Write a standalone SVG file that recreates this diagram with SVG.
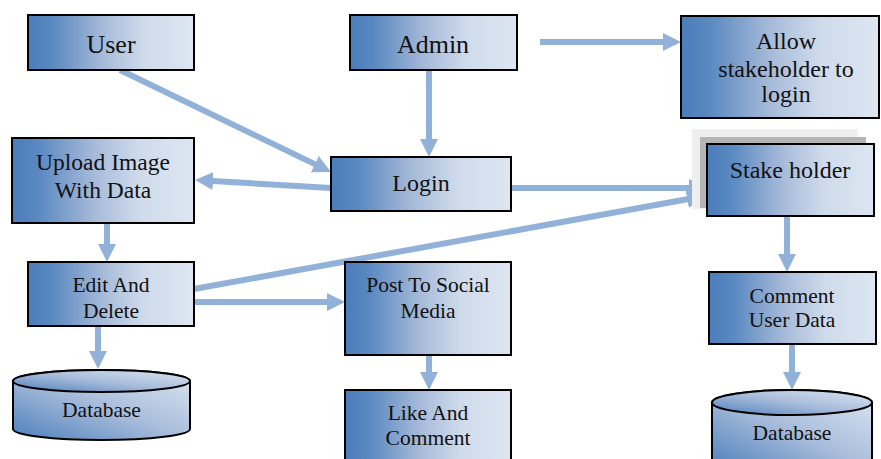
<svg xmlns="http://www.w3.org/2000/svg" width="881" height="459" viewBox="0 0 881 459">
  <defs>
    <linearGradient id="boxFill" x1="0" y1="0" x2="1" y2="0">
      <stop offset="0" stop-color="#4a7dbb"/>
      <stop offset="0.15" stop-color="#5b89c1"/>
      <stop offset="0.45" stop-color="#a6bad9"/>
      <stop offset="0.7" stop-color="#cfdbeb"/>
      <stop offset="1" stop-color="#dde6f2"/>
    </linearGradient>
    <linearGradient id="dbFill" x1="0" y1="1" x2="1" y2="0">
      <stop offset="0" stop-color="#4c7fbc"/>
      <stop offset="0.5" stop-color="#a9bddb"/>
      <stop offset="1" stop-color="#dce6f2"/>
    </linearGradient>
    <marker id="arrow" markerUnits="userSpaceOnUse" markerWidth="20" markerHeight="20" refX="4" refY="9" orient="auto">
      <path d="M0,0 L18,9 L0,18 Z" fill="#92b1d8"/>
    </marker>
  </defs>
  <style>
    .box { fill: url(#boxFill); stroke: #000; stroke-width: 2; }
    .db { fill: url(#dbFill); stroke: #000; stroke-width: 2; }
    .lbl { font-family: "Liberation Serif", "Times New Roman", serif; fill: #111; text-anchor: middle; }
    .big { font-size: 26px; }
    .mid { font-size: 24px; }
    .up { font-size: 23.5px; }
    .sm { font-size: 21.5px; }
    .conn line { stroke: #92b1d8; stroke-width: 6; marker-end: url(#arrow); }
  </style>
  <rect width="881" height="459" fill="#fff"/>

  <g class="conn">
    <line x1="120" y1="70" x2="318.4" y2="165.9"/>
    <line x1="429" y1="70" x2="429" y2="143"/>
    <line x1="540" y1="42" x2="667" y2="42"/>
    <line x1="331" y1="188" x2="209" y2="180.8"/>
    <line x1="511" y1="188" x2="693" y2="188"/>
    <line x1="194" y1="289" x2="691.2" y2="198.5"/>
    <line x1="107" y1="223" x2="107" y2="248"/>
    <line x1="194" y1="302" x2="331" y2="302"/>
    <line x1="98" y1="326" x2="98" y2="355"/>
    <line x1="429" y1="355" x2="429" y2="376"/>
    <line x1="787" y1="216" x2="787" y2="258"/>
    <line x1="792" y1="344" x2="792" y2="376"/>
  </g>

  <g id="user">
    <rect class="box" x="28" y="15" width="166" height="55"/>
    <text class="lbl big" x="111" y="53">User</text>
  </g>
  <g id="admin">
    <rect class="box" x="350" y="15" width="167" height="55"/>
    <text class="lbl big" x="433" y="53">Admin</text>
  </g>
  <g id="allow">
    <rect class="box" x="681" y="16" width="198" height="102"/>
    <text class="lbl mid" x="786" y="49">Allow</text>
    <text class="lbl mid" x="786" y="77">stakeholder to</text>
    <text class="lbl mid" x="786" y="102">login</text>
  </g>
  <g id="stakeholder">
    <rect x="692" y="129" width="166" height="80" fill="#efefef"/>
    <rect x="700" y="137" width="166" height="71" fill="#b5b5b5"/>
    <rect class="box" x="707" y="144" width="167" height="72"/>
    <text class="lbl mid" x="790" y="178">Stake holder</text>
  </g>
  <g id="login">
    <rect class="box" x="331" y="157" width="180" height="54"/>
    <text class="lbl mid" x="421" y="191">Login</text>
  </g>
  <g id="upload">
    <rect class="box" x="12" y="138" width="182" height="85"/>
    <text class="lbl up" x="103" y="170">Upload Image</text>
    <text class="lbl up" x="103" y="198">With Data</text>
  </g>
  <g id="edit">
    <rect class="box" x="28" y="262" width="166" height="64"/>
    <text class="lbl sm" x="111" y="292">Edit And</text>
    <text class="lbl sm" x="111" y="318">Delete</text>
  </g>
  <g id="post">
    <rect class="box" x="345" y="262" width="166" height="93"/>
    <text class="lbl sm" x="428" y="292">Post To Social</text>
    <text class="lbl sm" x="428" y="318">Media</text>
  </g>
  <g id="like">
    <rect class="box" x="345" y="390" width="166" height="80"/>
    <text class="lbl sm" x="428" y="420">Like And</text>
    <text class="lbl sm" x="428" y="445">Comment</text>
  </g>
  <g id="comment">
    <rect class="box" x="709" y="272" width="167" height="72"/>
    <text class="lbl sm" x="792" y="303">Comment</text>
    <text class="lbl sm" x="792" y="327">User Data</text>
  </g>
  <g id="database-left">
    <path class="db" d="M13,381 L13,429 A88.5,11 0 0 0 190,429 L190,381 A88.5,11 0 0 0 13,381 Z"/>
    <ellipse class="db" cx="101.5" cy="381" rx="88.5" ry="11"/>
    <text class="lbl sm" x="101.5" y="417">Database</text>
  </g>
  <g id="database-right">
    <path class="db" d="M712,402.5 L712,470 L872,470 L872,402.5 A80,12.5 0 0 0 712,402.5 Z"/>
    <ellipse class="db" cx="792" cy="402.5" rx="80" ry="12.5"/>
    <text class="lbl sm" x="792" y="440">Database</text>
  </g>
</svg>
